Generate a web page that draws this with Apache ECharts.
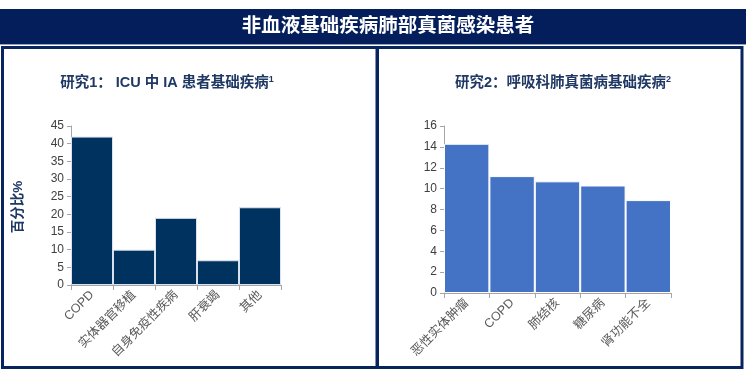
<!DOCTYPE html>
<html><head><meta charset="utf-8">
<script src="https://cdn.jsdelivr.net/npm/echarts@6/dist/echarts.min.js"></script>
<style>html,body{margin:0;padding:0;background:#fff}#c{width:747px;height:373px}</style>
</head><body><div id="c"></div>
<script>
var cats1 = ['COPD','实体器官移植','自身免疫性疾病','肝衰竭','其他'];
var vals1 = [42, 10, 19, 7, 22];
var cats2 = ['恶性实体肿瘤','COPD','肺结核','糖尿病','肾功能不全'];
var vals2 = [14.3, 11.2, 10.7, 10.3, 8.9];
var mainTitle = '非血液基础疾病肺部真菌感染患者';
var title1 = '研究1： ICU 中 IA 患者基础疾病';
var title2 = '研究2：呼吸科肺真菌病基础疾病';
var yName1 = '百分比%';

var FONT = '"Liberation Sans","Noto Sans CJK SC",sans-serif';
var chart = echarts.init(document.getElementById('c'), null, {renderer:'canvas'});
var axisCommon = {
  axisLine:{show:true,lineStyle:{color:'#a6a6a6',width:1}},
  axisTick:{show:true,length:4,lineStyle:{color:'#a6a6a6'}},
  splitLine:{show:false},
  axisLabel:{color:'#404040',fontSize:12,fontFamily:FONT,margin:7}
};
function xAxis(cats, gi){
  return {type:'category',gridIndex:gi,data:cats,boundaryGap:true,
    axisLine:axisCommon.axisLine,
    axisTick:{show:true,length:5,alignWithLabel:false,lineStyle:{color:'#a6a6a6'}},
    axisLabel:{color:'#595959',fontSize:12.5,fontFamily:FONT,rotate:45,interval:0,margin:8}};
}
var rich = {t:{fontSize:14.5,fontWeight:'bold',color:'#1f3864',fontFamily:FONT},
            s:{fontSize:9,fontWeight:'bold',color:'#1f3864',verticalAlign:'top',padding:[0,0,7,0],fontFamily:FONT}};
chart.setOption({
  animation:false,
  title:[
    {text:'{t|'+title1+'}{s|1}',left:162,top:70,textAlign:'center',textStyle:{rich:rich}},
    {text:'{t|'+title2+'}{s|2}',left:558,top:70,textAlign:'center',textStyle:{rich:rich}}
  ],
  grid:[
    {left:71,top:126,width:210,height:159},
    {left:444,top:126,width:227,height:167}
  ],
  xAxis:[xAxis(cats1,0), xAxis(cats2,1)],
  yAxis:[
    Object.assign({type:'value',gridIndex:0,min:0,max:45,interval:5},axisCommon),
    Object.assign({type:'value',gridIndex:1,min:0,max:16,interval:2},axisCommon)
  ],
  series:[
    {type:'bar',xAxisIndex:0,yAxisIndex:0,data:vals1,barCategoryGap:'0%',
     itemStyle:{color:'#00325f',borderColor:'#d9e1ee',borderWidth:1}},
    {type:'bar',xAxisIndex:1,yAxisIndex:1,data:vals2,barCategoryGap:'0%',
     itemStyle:{color:'#4472c4',borderColor:'#ffffff',borderWidth:1}}
  ],
  graphic:[
    {type:'rect',shape:{x:0,y:9,width:746,height:35},style:{fill:'#041e5c'}},
    {type:'rect',shape:{x:0,y:44,width:746,height:1},style:{fill:'#8fa0c4'}},
    {type:'text',x:388,y:26.5,style:{text:mainTitle,fill:'#ffffff',fontSize:19.5,fontWeight:'bold',
      fontFamily:FONT,align:'center',verticalAlign:'middle'}},
    {type:'rect',shape:{x:2.5,y:47.5,width:374.5,height:320},style:{fill:'none',stroke:'#07245e',lineWidth:3}},
    {type:'rect',shape:{x:377.5,y:47.5,width:364.5,height:320},style:{fill:'none',stroke:'#07245e',lineWidth:3}},
    {type:'text',x:18,y:207,rotation:Math.PI/2,style:{text:yName1,fill:'#1f3864',fontSize:13.5,fontWeight:'bold',
      fontFamily:FONT,align:'center',verticalAlign:'middle'}}
  ]
});
</script></body></html>
